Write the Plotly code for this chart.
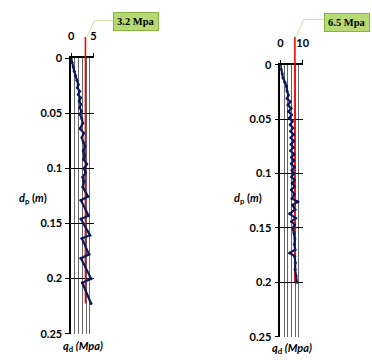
import plotly.graph_objects as go

# ---- data ----
d_left = [0, 0.004, 0.008, 0.012, 0.016, 0.020, 0.024, 0.027, 0.030, 0.033,
          0.036, 0.039, 0.042, 0.045, 0.048, 0.051, 0.055, 0.059, 0.064, 0.068,
          0.072, 0.076, 0.080, 0.084, 0.088, 0.092, 0.096, 0.100, 0.104, 0.108,
          0.112, 0.117, 0.1256, 0.129, 0.143, 0.146, 0.1606, 0.1635, 0.178, 0.1815,
          0.200, 0.2037, 0.2226]
q_left = [0, 0.2, 0.45, 0.7, 1.0, 1.3, 1.6, 1.4, 1.9, 1.6,
          2.1, 1.8, 2.2, 1.9, 2.3, 2.0, 2.4, 2.6, 2.0, 2.8,
          2.4, 2.7, 3.1, 2.7, 3.0, 2.8, 3.5, 2.9, 3.2, 2.6,
          2.9, 2.6, 3.8, 2.2, 3.9, 2.2, 4.2, 2.4, 4.0, 2.2,
          4.45, 2.5, 4.45]

d_right = [0, 0.004, 0.008, 0.012, 0.016, 0.020, 0.024, 0.028,
           0.031, 0.034, 0.037, 0.040, 0.043, 0.046, 0.049, 0.052, 0.055, 0.058,
           0.061, 0.064, 0.067, 0.070, 0.073, 0.076, 0.079, 0.082, 0.085, 0.088,
           0.091, 0.094, 0.097, 0.100, 0.103, 0.106, 0.109, 0.112, 0.115,
           0.119, 0.123, 0.126, 0.129, 0.133, 0.137, 0.141, 0.144, 0.147, 0.150,
           0.155, 0.160, 0.165, 0.170, 0.173, 0.176, 0.182, 0.188, 0.194, 0.200]
q_right = [0, 0.3, 0.8, 1.2, 2.0, 2.8, 3.0, 3.6,
           3.0, 4.4, 3.4, 4.8, 3.7, 5.0, 4.0, 5.4, 4.4, 5.6,
           4.6, 5.9, 4.7, 6.0, 4.8, 5.8, 4.6, 6.1, 5.0, 6.0,
           4.9, 6.2, 5.2, 6.0, 5.0, 6.3, 5.3, 6.4, 4.9,
           6.2, 5.2, 7.8, 5.4, 6.6, 4.2, 6.8, 5.0, 6.4, 5.6,
           6.2, 6.5, 6.3, 6.6, 4.2, 6.4, 6.7, 6.6, 7.0, 7.4]

ref_left = 3.2
ref_left_depth = [0, 0.2226]
ref_right = 6.5
ref_right_depth = [0, 0.200]

x_ticks_left = [0, 5]
x_ticks_right = [0, 10]
y_ticks = [0, 0.05, 0.1, 0.15, 0.2, 0.25]
y_ticktext = ["0", "0.05", "0.1", "0.15", "0.2", "0.25"]
label_left = "3.2 Mpa"
label_right = "6.5 Mpa"

W, H = 372, 360
NAVY = "#0b1a5c"
RED = "#ff0000"
tickfont = dict(family="Lato, Open Sans, sans-serif", size=11, color="#000", weight="bold")

fig = go.Figure()
fig.add_trace(go.Scatter(x=[ref_left, ref_left], y=ref_left_depth, mode="lines",
                         line=dict(color=RED, width=1.6), xaxis="x", yaxis="y", showlegend=False))
fig.add_trace(go.Scatter(x=q_left, y=d_left, mode="lines+markers",
                         line=dict(color=NAVY, width=2.2), marker=dict(size=3, color=NAVY),
                         xaxis="x", yaxis="y", showlegend=False))
fig.add_trace(go.Scatter(x=[ref_right, ref_right], y=ref_right_depth, mode="lines",
                         line=dict(color=RED, width=1.6), xaxis="x2", yaxis="y2", showlegend=False))
fig.add_trace(go.Scatter(x=q_right, y=d_right, mode="lines+markers",
                         line=dict(color=NAVY, width=2.2), marker=dict(size=3, color=NAVY),
                         xaxis="x2", yaxis="y2", showlegend=False))


def xax(dom, rng, ticks, anchor):
    return dict(domain=dom, range=rng, side="top", anchor=anchor,
                tickvals=ticks, ticktext=[str(t) for t in ticks],
                tickfont=tickfont, ticks="outside", ticklen=3, tickcolor="#000",
                showline=True, linecolor="#000", linewidth=1.5,
                showgrid=True, gridcolor="#666", gridwidth=1, zeroline=False,
                ticklabelstandoff=9,
                minor=dict(dtick=(rng[1] - rng[0]) / 6, showgrid=True,
                           gridcolor="#666", gridwidth=1, ticks=""),
                fixedrange=True)


def yax(dom, anchor):
    return dict(domain=dom, range=[0.25, 0], anchor=anchor,
                tickvals=y_ticks, ticktext=y_ticktext, tickfont=tickfont,
                ticks="outside", ticklen=4, tickcolor="#000",
                showline=True, linecolor="#000", linewidth=1.5,
                showgrid=True, gridcolor="#000", gridwidth=1, zeroline=False,
                ticklabelstandoff=1, fixedrange=True)


fig.update_layout(
    width=W, height=H, margin=dict(l=0, r=0, t=0, b=0),
    paper_bgcolor="white", plot_bgcolor="white", showlegend=False,
    xaxis=xax([70 / W, 93 / W], [0, 5], x_ticks_left, "y"),
    yaxis=yax([1 - 339 / H, 1 - 53 / H], "x"),
    xaxis2=xax([285 / W, 308 / W], [0, 10], x_ticks_right, "y2"),
    yaxis2=yax([1 - 342 / H, 1 - 60 / H], "x2"),
)

# red line extension above plot + leader lines
fig.add_shape(type="line", xref="x", yref="paper", x0=ref_left, x1=ref_left,
              y0=1 - 53 / H, y1=1 - 31 / H, line=dict(color=RED, width=1.6))
fig.add_shape(type="line", xref="x2", yref="paper", x0=ref_right, x1=ref_right,
              y0=1 - 60 / H, y1=1 - 31 / H, line=dict(color=RED, width=1.6))


def leader(pts):
    p = "M " + " L ".join(f"{x / W:.4f},{1 - y / H:.4f}" for x, y in pts)
    fig.add_shape(type="path", xref="paper", yref="paper", path=p,
                  line=dict(color="#cfe0a8", width=1))


leader([(86, 31), (94, 14), (113, 14)])
leader([(301, 31), (309, 13), (330, 13)])

boxfont = dict(family="Liberation Serif, Times New Roman, serif", size=10.5, color="#000", weight="bold")
fig.add_annotation(xref="paper", yref="paper", x=113 / W, y=1 - 15 / H, xanchor="left", yanchor="middle",
                   text=label_left, showarrow=False, font=boxfont,
                   bgcolor="#b6da72", bordercolor="#86b443", borderwidth=1, borderpad=3)
fig.add_annotation(xref="paper", yref="paper", x=330 / W, y=1 - 16 / H, xanchor="left", yanchor="middle",
                   text=label_right, showarrow=False, font=boxfont,
                   bgcolor="#b6da72", bordercolor="#86b443", borderwidth=1, borderpad=3)

titlefont = dict(family="Lato, Open Sans, sans-serif", size=11, color="#000", weight="bold")
for xc, yc in [(31, 199), (252, 199)]:
    fig.add_annotation(xref="paper", yref="paper", x=xc / W, y=1 - yc / H, showarrow=False,
                       xanchor="center", yanchor="middle",
                       text="<i>d</i><sub>p</sub> (<i>m</i>)", font=titlefont)
for xc, yc in [(82, 352), (297, 354)]:
    fig.add_annotation(xref="paper", yref="paper", x=xc / W, y=1 - yc / H, showarrow=False,
                       xanchor="center", yanchor="middle",
                       text="<i>q</i><sub>d</sub> <i>(Mpa)</i>", font=titlefont)

fig.write_html("out.html")
